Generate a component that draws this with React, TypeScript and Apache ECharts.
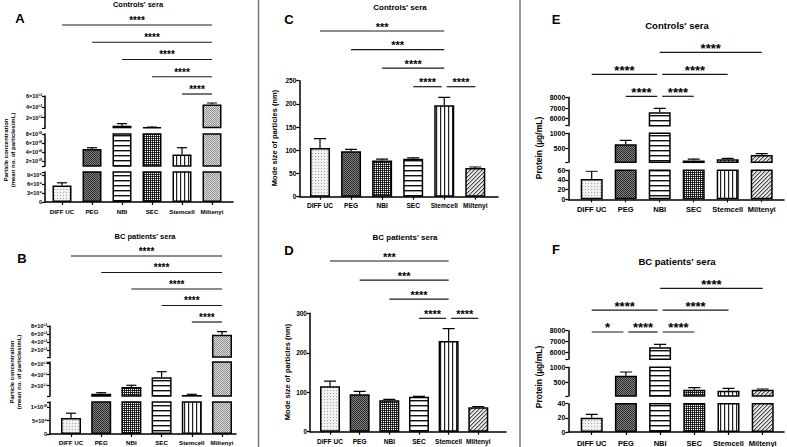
import React, { useEffect, useRef } from 'react';
import * as echarts from 'echarts';

// ---------------- data ----------------
const categories = ['DIFF UC', 'PEG', 'NBI', 'SEC', 'Stemcell', 'Miltenyi'];

// A: particle concentration, controls (mean, top of error bar)
const concControls = [5.5e9, 4.7e10, 4.8e11, 1.8e11, 3.5e10, 4.4e12];
const concControlsErr = [6.4e9, 5.0e10, 8.6e11, 2.0e11, 5.0e10, 4.7e12];
// B: particle concentration, BC patients
const concPatients = [6.0e9, 5.5e10, 1.76e11, 3.52e11, 3.0e10, 5.8e12];
const concPatientsErr = [7.8e9, 7.2e10, 2.07e11, 4.54e11, 4.3e10, 6.6e12];
// C: mode size, controls
const modeControls = [105, 98, 78, 82, 197, 62];
const modeControlsErr = [125, 102, 81, 83.5, 214, 64];
// D: mode size, BC patients
const modePatients = [115, 95, 80, 88.5, 230, 62];
const modePatientsErr = [128, 102, 82, 89.5, 261, 63.5];
// E: protein, controls
const proteinControls = [42, 643, 6600, 118, 157, 300];
const proteinControlsErr = [58, 772, 6973, 166, 190, 339];
// F: protein, BC patients
const proteinPatients = [20, 719, 6491, 251, 218, 251];
const proteinPatientsErr = [25, 843, 6764, 318, 298, 274];

// significance brackets: [from, to, level, label]
const sigA: [number, number, number, string][] = [[4, 5, 1, '****'], [3, 5, 2, '****'], [2, 5, 3, '****'], [1, 5, 4, '****'], [0, 5, 5, '****']];
const sigB: [number, number, number, string][] = [[4, 5, 1, '****'], [3, 5, 2, '****'], [2, 5, 3, '****'], [1, 5, 4, '****'], [0, 5, 5, '****']];
const sigC: [number, number, number, string][] = [[3, 4, 1, '****'], [4, 5, 1, '****'], [2, 4, 2, '****'], [1, 4, 3, '***'], [0, 4, 4, '***']];
const sigD: [number, number, number, string][] = [[3, 4, 1, '****'], [4, 5, 1, '****'], [2, 4, 2, '****'], [1, 4, 3, '***'], [0, 4, 4, '***']];
const sigE: [number, number, number, string][] = [[1, 2, 1, '****'], [2, 3, 1, '****'], [0, 2, 2, '****'], [2, 4, 2, '****'], [2, 5, 3, '****']];
const sigF: [number, number, number, string][] = [[0, 1, 1, '*'], [1, 2, 1, '****'], [2, 3, 1, '****'], [0, 2, 2, '****'], [2, 4, 2, '****'], [2, 5, 3, '****']];

// tick labels per axis segment (bottom segment first)
const ticksA = [[0, 3e9, 6e9, 9e9], [2e10, 4e10, 6e10, 8e10], [2e12, 4e12, 6e12]];
const ticksB = [[0, 5e9, 1e10], [2e11, 4e11, 6e11], [2e12, 4e12, 6e12, 8e12]];
const ticksC = [0, 50, 100, 150, 200, 250];
const ticksD = [0, 100, 200, 300];
const ticksE = [[0, 20, 40, 60], [500, 1000], [6000, 7000, 8000]];
const ticksF = [[0, 20, 40], [500, 1000], [6000, 7000, 8000]];

// ---------------- styles ----------------
const FONT = '"Liberation Sans", Arial, sans-serif';

type Painter = (x: number, y: number) => string;
function tile(w: number, h: number, paint: Painter) {
  const c = document.createElement('canvas');
  c.width = w;
  c.height = h;
  const ctx = c.getContext('2d')!;
  for (let y = 0; y < h; y++) {
    for (let x = 0; x < w; x++) {
      ctx.fillStyle = paint(x, y);
      ctx.fillRect(x, y, 1, 1);
    }
  }
  return { image: c.toDataURL(), repeat: 'repeat', imageWidth: w, imageHeight: h };
}

function makePatterns(): Record<string, any> {
  return {
    dots: tile(3, 3, (x, y) => (x === 0 && y === 0 ? '#a9a9a9' : (x + y) % 3 === 1 ? '#e4e4e4' : '#f7f7f7')),
    darkCheck: tile(2, 2, (x, y) => ((x + y) % 2 === 0 ? '#2c2c2c' : '#808080')),
    blackCheck: tile(2, 2, (x, y) => (x === 1 && y === 1 ? '#ffffff' : (x + y) % 2 === 0 ? '#000000' : '#3a3a3a')),
    grayCheck: tile(2, 2, (x, y) => ((x + y) % 2 === 0 ? '#8e8e8e' : '#dcdcdc')),
    hLines: tile(1, 5, (x, y) => (y === 0 ? '#111111' : y === 1 ? '#9a9a9a' : '#ffffff')),
    vLines: tile(4, 1, (x) => (x === 0 ? '#222222' : x === 1 ? '#d0d0d0' : '#ffffff')),
    diag: tile(4, 4, (x, y) => ((x + y) % 4 === 3 ? '#4a4a4a' : (x + y) % 4 === 0 ? '#a8a8a8' : '#e8e8e8')),
  };
}

const SUP = '⁰¹²³⁴⁵⁶⁷⁸⁹';
function sci(v: number): string {
  if (v === 0) return '0';
  const e = Math.floor(Math.log10(v) + 1e-9);
  const m = Math.round(v / Math.pow(10, e));
  return m + '×10' + String(e).split('').map((d) => SUP[+d]).join('');
}

interface Seg { top: number; bottom: number; min: number; max: number; ticks: number[] }
interface Panel {
  values: number[]; errs: number[]; sig: [number, number, number, string][]; styles: string[];
  axisX: number; axisEnd: number; c0: number; step: number; barW: number; capW: number;
  segs: Seg[]; annLow: number; annHigh: number; sci: boolean;
  xFont: number; yFont: number; starFont: number; xMargin: number;
  title: { text: string; x: number; y: number; size: number };
  letter: { text: string; x: number; y: number; size: number };
  yName: { text: string; x: number; y: number; size: number }[];
}

const panels: Panel[] = [
  {
    values: concControls, errs: concControlsErr, sig: sigA,
    styles: ['dots', 'darkCheck', 'hLines', 'blackCheck', 'vLines', 'grayCheck'],
    axisX: 45, axisEnd: 233, c0: 62, step: 30, barW: 19, capW: 10,
    segs: [
      { top: 172, bottom: 202, min: 0, max: 1e10, ticks: ticksA[0] },
      { top: 134, bottom: 166, min: 1e10, max: 8e10, ticks: ticksA[1] },
      { top: 96, bottom: 128.3, min: 0, max: 6e12, ticks: ticksA[2] },
    ],
    annLow: 94, annHigh: 25, sci: true, xFont: 6.2, yFont: 5.5, starFont: 10, xMargin: 6,
    title: { text: "Controls' sera", x: 138, y: 4.5, size: 7.5 },
    letter: { text: 'A', x: 20, y: 18, size: 13 },
    yName: [
      { text: 'Particle concentration', x: 6, y: 150, size: 6 },
      { text: '(mean no. of particles/mL)', x: 13, y: 150, size: 6 },
    ],
  },
  {
    values: concPatients, errs: concPatientsErr, sig: sigB,
    styles: ['dots', 'darkCheck', 'blackCheck', 'hLines', 'vLines', 'grayCheck'],
    axisX: 50, axisEnd: 236, c0: 71, step: 30.2, barW: 20, capW: 10,
    segs: [
      { top: 402, bottom: 434, min: 0, max: 1.2e10, ticks: ticksB[0] },
      { top: 362, bottom: 396, min: 1.2e10, max: 6.3e11, ticks: ticksB[1] },
      { top: 326, bottom: 357.7, min: 0, max: 8e12, ticks: ticksB[2] },
    ],
    annLow: 322, annHigh: 256, sci: true, xFont: 6.2, yFont: 5.5, starFont: 10, xMargin: 5,
    title: { text: "BC patients' sera", x: 145, y: 236, size: 7.5 },
    letter: { text: 'B', x: 22, y: 258, size: 13 },
    yName: [
      { text: 'Particle concentration', x: 12, y: 372, size: 6 },
      { text: '(mean no. of particles/mL)', x: 19, y: 372, size: 6 },
    ],
  },
  {
    values: modeControls, errs: modeControlsErr, sig: sigC,
    styles: ['dots', 'darkCheck', 'blackCheck', 'hLines', 'vLines', 'diag'],
    axisX: 299.3, axisEnd: 498, c0: 320, step: 31.06, barW: 20, capW: 12,
    segs: [{ top: 80.7, bottom: 196.7, min: 0, max: 250, ticks: ticksC }],
    annLow: 86.7, annHigh: 31, sci: false, xFont: 6.6, yFont: 6.5, starFont: 11, xMargin: 5,
    title: { text: "Controls' sera", x: 400, y: 7, size: 8 },
    letter: { text: 'C', x: 289, y: 19, size: 13 },
    yName: [{ text: 'Mode size of particles (nm)', x: 274.5, y: 138, size: 7.5 }],
  },
  {
    values: modePatients, errs: modePatientsErr, sig: sigD,
    styles: ['dots', 'darkCheck', 'blackCheck', 'hLines', 'vLines', 'diag'],
    axisX: 310, axisEnd: 506, c0: 330, step: 29.66, barW: 20, capW: 12,
    segs: [{ top: 313.3, bottom: 431.7, min: 0, max: 300, ticks: ticksD }],
    annLow: 318.3, annHigh: 261, sci: false, xFont: 6.6, yFont: 6.5, starFont: 11, xMargin: 6,
    title: { text: "BC patients' sera", x: 405, y: 237, size: 8 },
    letter: { text: 'D', x: 289, y: 250, size: 13 },
    yName: [{ text: 'Mode size of particles (nm)', x: 287, y: 372, size: 7.5 }],
  },
  {
    values: proteinControls, errs: proteinControlsErr, sig: sigE,
    styles: ['dots', 'darkCheck', 'hLines', 'blackCheck', 'vLines', 'diag'],
    axisX: 568.3, axisEnd: 784, c0: 591.7, step: 34, barW: 22, capW: 12,
    segs: [
      { top: 170.3, bottom: 199.3, min: 0, max: 60, ticks: ticksE[0] },
      { top: 133.3, bottom: 162.3, min: 60, max: 1000, ticks: ticksE[1] },
      { top: 97.3, bottom: 125.7, min: 5350, max: 8000, ticks: ticksE[2] },
    ],
    annLow: 96.3, annHigh: 52.3, sci: false, xFont: 7.5, yFont: 7, starFont: 13, xMargin: 6,
    title: { text: "Controls' sera", x: 677, y: 25, size: 9.5 },
    letter: { text: 'E', x: 556, y: 19, size: 13 },
    yName: [{ text: 'Protein (µg/mL)', x: 539, y: 148, size: 8.5 }],
  },
  {
    values: proteinPatients, errs: proteinPatientsErr, sig: sigF,
    styles: ['dots', 'darkCheck', 'hLines', 'blackCheck', 'vLines', 'diag'],
    axisX: 568.3, axisEnd: 784, c0: 591.7, step: 34.2, barW: 22, capW: 12,
    segs: [
      { top: 403.7, bottom: 432.7, min: 0, max: 40, ticks: ticksF[0] },
      { top: 367.3, bottom: 396, min: 40, max: 1000, ticks: ticksF[1] },
      { top: 330.7, bottom: 359.3, min: 5400, max: 8000, ticks: ticksF[2] },
    ],
    annLow: 332, annHigh: 288.3, sci: false, xFont: 7.5, yFont: 7, starFont: 13, xMargin: 7,
    title: { text: "BC patients' sera", x: 677, y: 261, size: 9.5 },
    letter: { text: 'F', x: 556, y: 249, size: 13 },
    yName: [{ text: 'Protein (µg/mL)', x: 539, y: 377, size: 8.5 }],
  },
];

function textEl(text: string, x: number, y: number, size: number, rotation = 0) {
  return {
    type: 'text', x, y, rotation, silent: true,
    style: {
      text, fill: '#000', fontSize: size, fontWeight: 'bold', fontFamily: FONT,
      align: 'center', verticalAlign: 'middle', textAlign: 'center', textVerticalAlign: 'middle',
    },
  };
}

function buildOption() {
  const PATTERNS = makePatterns();
  const grid: any[] = [];
  const xAxis: any[] = [];
  const yAxis: any[] = [];
  const series: any[] = [];
  const elements: any[] = [];
  const catIdx = categories.map((_, i) => i);

  panels.forEach((p) => {
    const xmin = (p.axisX - p.c0) / p.step;
    const xmax = (p.axisEnd - p.c0) / p.step;
    const left = p.axisX;
    const width = p.axisEnd - p.axisX;
    const multi = p.segs.length > 1;

    p.segs.forEach((s, si) => {
      const g = grid.length;
      grid.push({ left, width, top: s.top, height: s.bottom - s.top });
      xAxis.push({
        type: 'value', gridIndex: g, min: xmin, max: xmax, show: si === 0,
        splitLine: { show: false },
        axisLine: { show: true, onZero: false, lineStyle: { color: '#000', width: 1.5 } },
        axisTick: { show: true, customValues: catIdx, length: 3, lineStyle: { color: '#000', width: 1.2 } },
        axisLabel: {
          customValues: catIdx, formatter: (v: number) => categories[Math.round(v)] ?? '',
          margin: p.xMargin, fontSize: p.xFont, fontWeight: 'bold', fontFamily: FONT, color: '#000',
        },
      });
      const tickVals = multi ? Array.from(new Set([s.min, ...s.ticks, s.max])) : s.ticks;
      yAxis.push({
        type: 'value', gridIndex: g, min: s.min, max: s.max,
        splitLine: { show: false },
        axisLine: { show: true, onZero: false, lineStyle: { color: '#000', width: 1.5 } },
        axisTick: { show: true, customValues: tickVals, length: 3, lineStyle: { color: '#000', width: 1.2 } },
        axisLabel: {
          customValues: s.ticks, formatter: (v: number) => (p.sci ? sci(v) : String(v)),
          margin: 3, fontSize: p.yFont, fontWeight: 'bold', fontFamily: FONT, color: '#000',
        },
      });
      const lb = si === 0 ? -Infinity : p.segs[si - 1].max;
      const barData = p.values
        .map((v, i) => (v > lb ? {
          value: [i, v],
          itemStyle: { color: PATTERNS[p.styles[i]], borderColor: '#000', borderWidth: 1.5 },
        } : null))
        .filter(Boolean);
      series.push({
        type: 'bar', xAxisIndex: g, yAxisIndex: g, barWidth: p.barW, clip: true, silent: true,
        data: barData,
      });
      const errData = p.values
        .map((v, i) => (v > lb && v <= s.max ? [i, v, p.errs[i]] : null))
        .filter(Boolean);
      series.push({
        type: 'custom', xAxisIndex: g, yAxisIndex: g, clip: true, silent: true, z: 5,
        encode: { x: 0, y: [1, 2] },
        data: errData,
        renderItem: (params: any, api: any) => {
          const x = api.value(0), v = api.value(1), e = api.value(2);
          const a = api.coord([x, v]);
          const b = api.coord([x, e]);
          const cw = p.capW / 2;
          return {
            type: 'group',
            children: [
              { type: 'line', shape: { x1: a[0], y1: a[1], x2: b[0], y2: b[1] }, style: { stroke: '#000', lineWidth: 1.2 } },
              { type: 'line', shape: { x1: b[0] - cw, y1: b[1], x2: b[0] + cw, y2: b[1] }, style: { stroke: '#000', lineWidth: 1.2 } },
            ],
          };
        },
      });
    });

    // significance brackets
    const g = grid.length;
    const n = Math.max(...p.sig.map((s) => s[2]));
    grid.push({ left, width, top: p.annHigh, height: p.annLow - p.annHigh });
    xAxis.push({ type: 'value', gridIndex: g, min: xmin, max: xmax, show: false });
    yAxis.push({ type: 'value', gridIndex: g, min: 1, max: n, show: false });
    series.push({
      type: 'custom', xAxisIndex: g, yAxisIndex: g, silent: true,
      encode: { x: [0, 1], y: 2 },
      data: p.sig.map((s) => [s[0], s[1], s[2]]),
      renderItem: (params: any, api: any) => {
        const s = p.sig[params.dataIndex];
        const a = api.coord([s[0], s[2]]);
        const b = api.coord([s[1], s[2]]);
        const shareL = p.sig.some((o) => o !== s && o[2] === s[2] && o[1] === s[0]);
        const shareR = p.sig.some((o) => o !== s && o[2] === s[2] && o[0] === s[1]);
        const x1 = a[0] + (shareL ? 2.5 : 0);
        const x2 = b[0] - (shareR ? 2.5 : 0);
        return {
          type: 'group',
          children: [
            { type: 'line', shape: { x1, y1: a[1], x2, y2: a[1] }, style: { stroke: '#1a1a1a', lineWidth: 1.2 } },
            {
              type: 'text', x: (x1 + x2) / 2, y: a[1] - 7 + 0.23 * p.starFont,
              style: {
                text: s[3], fill: '#000', fontSize: p.starFont, fontWeight: 'bold', fontFamily: FONT,
                align: 'center', verticalAlign: 'middle',
              },
            },
          ],
        };
      },
    });

    elements.push(textEl(p.title.text, p.title.x, p.title.y, p.title.size));
    elements.push(textEl(p.letter.text, p.letter.x, p.letter.y, p.letter.size));
    p.yName.forEach((t) => elements.push(textEl(t.text, t.x, t.y, t.size, Math.PI / 2)));
  });

  // panel separators
  [258.5, 520].forEach((x) => {
    elements.push({
      type: 'line', silent: true,
      shape: { x1: x, y1: 0, x2: x, y2: 447 },
      style: { stroke: '#7a7a7a', lineWidth: 1.5 },
    });
  });

  return {
    animation: false,
    backgroundColor: '#ffffff',
    grid, xAxis, yAxis, series,
    graphic: { elements },
  };
}

export default function App() {
  const ref = useRef<HTMLDivElement>(null);
  useEffect(() => {
    if (!ref.current) return;
    const chart = echarts.init(ref.current, null, { renderer: 'svg' });
    chart.setOption(buildOption() as any);
    return () => chart.dispose();
  }, []);
  return (
    <div
      ref={ref}
      style={{ position: 'fixed', left: 0, top: 0, width: 787, height: 447, background: '#fff' }}
    />
  );
}
